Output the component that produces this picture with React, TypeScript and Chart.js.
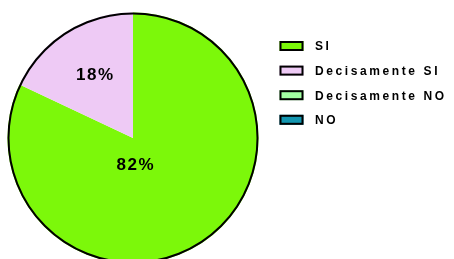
import React, { useEffect, useRef } from "react";
import { Chart, registerables } from "chart.js";

Chart.register(...registerables);

const categories = ["SI", "Decisamente SI", "Decisamente NO", "NO"];
const values = [82, 18, 0, 0];
const colors = ["#7CF80A", "#EECAF5", "#A2FFA2", "#1396B0"];

const outlinePlugin = {
  id: "outline",
  afterDatasetsDraw(chart: any) {
    const ctx = chart.ctx;
    const meta = chart.getDatasetMeta(0);
    const arc = meta.data[0];
    if (!arc) return;
    const { x, y, outerRadius } = arc.getProps(["x", "y", "outerRadius"], true);
    ctx.save();
    ctx.beginPath();
    ctx.arc(x, y, outerRadius - 1, 0, Math.PI * 2);
    ctx.lineWidth = 2;
    ctx.strokeStyle = "#000";
    ctx.stroke();

    // percentage labels
    const ds = chart.data.datasets[0].data as number[];
    const total = ds.reduce((a, b) => a + b, 0);
    ctx.font = "bold 17px 'Liberation Sans', Arial, sans-serif";
    (ctx as any).letterSpacing = "1.5px";
    ctx.fillStyle = "#000";
    ctx.textAlign = "center";
    ctx.textBaseline = "middle";
    const tweaks: Record<number, [number, number]> = { 0: [0.022, 0.216], 1: [-0.3, -0.502] };
    meta.data.forEach((el: any, i: number) => {
      if (!ds[i]) return;
      const t = tweaks[i] || [0, 0];
      const lx = x + outerRadius * t[0];
      const ly = y + outerRadius * t[1];
      ctx.fillText(Math.round((ds[i] / total) * 100) + "%", lx, ly);
    });
    ctx.restore();

    // legend
    ctx.save();
    const left = chart.chartArea.right + 21;
    const top0 = 41;
    ctx.font = "bold 12px 'Liberation Sans', Arial, sans-serif";
    (ctx as any).letterSpacing = "2.6px";
    ctx.textBaseline = "middle";
    ctx.textAlign = "left";
    chart.data.labels.forEach((lab: string, i: number) => {
      const ty = top0 + i * 24.6;
      ctx.fillStyle = colors[i];
      ctx.fillRect(left, ty, 24, 10);
      ctx.lineWidth = 2;
      ctx.strokeStyle = "#000";
      ctx.strokeRect(left + 1, ty + 1, 22, 8);
      ctx.fillStyle = "#000";
      ctx.fillText(lab, left + 35.5, ty + 6);
    });
    ctx.restore();
  },
};

export default function App() {
  const ref = useRef<HTMLCanvasElement>(null);
  useEffect(() => {
    document.body.style.margin = "0";
    const chart = new Chart(ref.current!, {
      type: "pie",
      data: {
        labels: categories,
        datasets: [
          {
            data: values,
            backgroundColor: colors,
            borderWidth: 0,
          },
        ],
      },
      options: {
        animation: false,
        responsive: false,
        layout: { padding: { left: 7.5, top: 12.5, right: 195.5, bottom: 6.5 } },
        plugins: { legend: { display: false }, tooltip: { enabled: false } },
      },
      plugins: [outlinePlugin],
    });
    return () => chart.destroy();
  }, []);
  return (
    <div style={{ width: 454, height: 259, overflow: "hidden", position: "relative", background: "#fff" }}>
      <canvas ref={ref} width={454} height={270} style={{ display: "block" }} />
    </div>
  );
}
